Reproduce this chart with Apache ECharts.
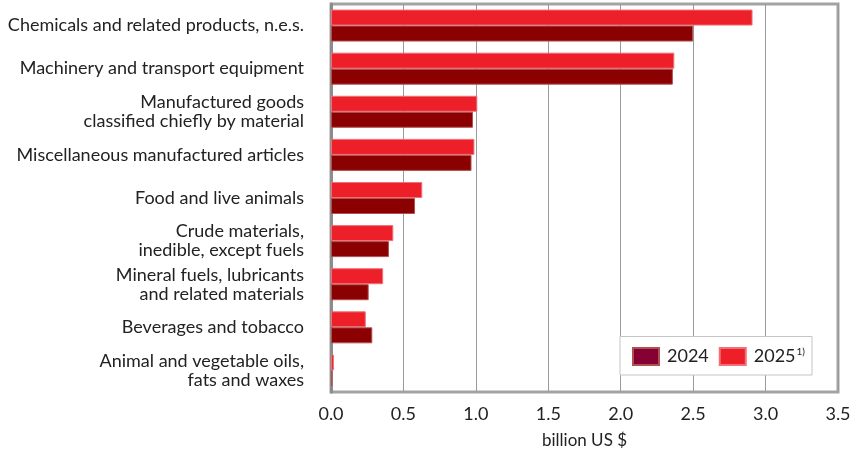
<!DOCTYPE html>
<html>
<head>
<meta charset="utf-8">
<script src="https://cdn.jsdelivr.net/npm/echarts@6/dist/echarts.min.js"></script>
<style>
  html, body { margin: 0; padding: 0; background: #fff; }
  #main { width: 861px; height: 452px; }
</style>
</head>
<body>
<div id="main"></div>
<script>
  // categories top to bottom
  const categories = [
    'Chemicals and related products, n.e.s.',
    'Machinery and transport equipment',
    'Manufactured goods\nclassified chiefly by material',
    'Miscellaneous manufactured articles',
    'Food and live animals',
    'Crude materials,\ninedible, except fuels',
    'Mineral fuels, lubricants\nand related materials',
    'Beverages and tobacco',
    'Animal and vegetable oils,\nfats and waxes'
  ];
  const values2024 = [2.50, 2.36, 0.98, 0.97, 0.58, 0.40, 0.26, 0.285, 0.01];
  const values2025 = [2.91, 2.37, 1.01, 0.99, 0.63, 0.43, 0.36, 0.24, 0.02];

  const font = 'Lato, "Open Sans", sans-serif';
  const chart = echarts.init(document.getElementById('main'));
  const option = {
    animation: false,
    textStyle: { fontFamily: font },
    grid: {
      left: 331, right: 23, top: 4, bottom: 60,
      show: true, borderColor: '#a3a3a6', borderWidth: 3,
      containLabel: false,
      outerBoundsMode: 'none'
    },
    legend: {
      data: [
        { name: '2024', itemStyle: { color: '#850033' } },
        { name: '2025' }
      ],
      icon: 'rect',
      right: 49, bottom: 77,
      orient: 'horizontal',
      itemWidth: 26, itemHeight: 17, itemGap: 10,
      padding: [10, 7, 9, 12],
      borderColor: '#c4c4c4', borderWidth: 1,
      backgroundColor: '#fff',
      formatter: (n) => n === '2025' ? '{a|2025}{s|1)}' : '{a|' + n + '}',
      textStyle: {
        rich: {
          a: { fontSize: 18, color: '#222', fontFamily: font, padding: [0, 0, 0, 3] },
          s: { fontSize: 10, color: '#222', verticalAlign: 'top', padding: [0, 0, 10, 1], fontFamily: font }
        }
      }
    },
    xAxis: {
      type: 'value',
      min: 0, max: 3.5, interval: 0.5,
      name: 'billion US $',
      nameLocation: 'middle',
      nameGap: 40,
      nameTextStyle: { fontSize: 17, color: '#222' },
      axisLine: { show: false },
      axisTick: { show: false },
      axisLabel: {
        fontSize: 18, color: '#222', margin: 13,
        formatter: (v) => v.toFixed(1)
      },
      splitLine: { lineStyle: { color: '#9a9a9a', width: 1 } }
    },
    yAxis: {
      type: 'category',
      data: categories,
      inverse: true,
      axisLine: { show: true, lineStyle: { color: '#8c8c8c', width: 3 } },
      axisTick: { show: false },
      axisLabel: {
        fontSize: 18, color: '#222', margin: 27, lineHeight: 19,
        align: 'right'
      }
    },
    series: [
      {
        name: '2025',
        type: 'bar',
        data: values2025,
        barWidth: 16,
        barGap: '0%',
        itemStyle: { color: '#ed1f28', borderColor: '#f07077', borderWidth: 1 }
      },
      {
        name: '2024',
        type: 'bar',
        data: values2024,
        barWidth: 16,
        barGap: '0%',
        itemStyle: { color: '#8b0000', borderColor: '#b05050', borderWidth: 1 }
      }
    ]
  };
  chart.setOption(option);
</script>
</body>
</html>
